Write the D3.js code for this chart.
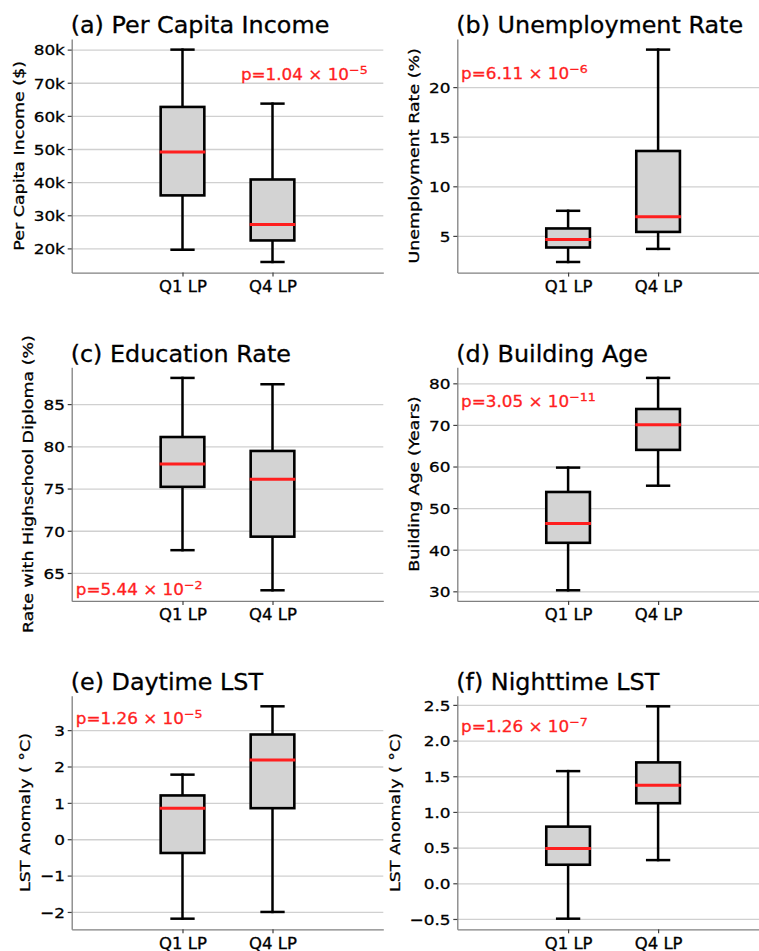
<!DOCTYPE html>
<html>
<head>
<meta charset="utf-8">
<script src="https://cdn.jsdelivr.net/npm/d3@7"></script>
<style>
  body { margin: 0; background: #fff; }
  text { font-family: "DejaVu Sans", sans-serif; stroke-width: 0.3px; }
</style>
</head>
<body>
<div id="chart"></div>
<script>
//DATA
groups = ["Q1 LP", "Q4 LP"];

titles = ["(a) Per Capita Income", "(b) Unemployment Rate", "(c) Education Rate",
          "(d) Building Age", "(e) Daytime LST", "(f) Nighttime LST"];
yLabels = ["Per Capita Income ($)", "Unemployment Rate (%)", "Rate with Highschool Diploma (%)",
           "Building Age (Years)", "LST Anomaly ( \u00b0C)", "LST Anomaly ( \u00b0C)"];

// per group: [lower whisker, Q1, median, Q3, upper whisker]
incomeStats = [[19.6, 36.0, 49.1, 62.7, 80.0], [15.9, 22.4, 27.2, 40.8, 63.7]];   // thousand $
unempStats  = [[2.37, 3.83, 4.64, 5.75, 7.53], [3.69, 5.40, 6.92, 13.56, 23.78]];
eduStats    = [[67.7, 75.2, 77.9, 81.1, 88.1], [62.95, 69.3, 76.1, 79.45, 87.35]];
ageStats    = [[30.25, 41.66, 46.33, 53.88, 59.74], [55.39, 64.0, 70.04, 73.83, 81.3]];
dayStats    = [[-2.185, -0.378, 0.854, 1.204, 1.776], [-2.0, 0.854, 2.18, 2.88, 3.655]];
nightStats  = [[-0.496, 0.26, 0.489, 0.794, 1.572], [0.325, 1.122, 1.375, 1.694, 2.48]];

incomeTicks = [20, 30, 40, 50, 60, 70, 80];
incomeTickLabels = ["20k", "30k", "40k", "50k", "60k", "70k", "80k"];
unempTicks = [5, 10, 15, 20];
unempTickLabels = ["5", "10", "15", "20"];
eduTicks = [65, 70, 75, 80, 85];
eduTickLabels = ["65", "70", "75", "80", "85"];
ageTicks = [30, 40, 50, 60, 70, 80];
ageTickLabels = ["30", "40", "50", "60", "70", "80"];
dayTicks = [-2, -1, 0, 1, 2, 3];
dayTickLabels = ["\u22122", "\u22121", "0", "1", "2", "3"];
nightTicks = [-0.5, 0, 0.5, 1, 1.5, 2, 2.5];
nightTickLabels = ["\u22120.5", "0.0", "0.5", "1.0", "1.5", "2.0", "2.5"];

pMantissa = ["1.04", "6.11", "5.44", "3.05", "1.26", "1.26"];
pExponent = ["\u22125", "\u22126", "\u22122", "\u221211", "\u22125", "\u22127"];

//LAYOUT
colLeft = [71.7, 457.3];
rowTop = [39, 367.3, 695.7];
panelW = 311.6;
panelH = 233.6;
// p-value text anchor, as fraction of the axes
pPos = [[0.543, 0.175], [0.012, 0.171], [0.013, 0.976], [0.012, 0.169], [0.013, 0.123], [0.012, 0.154]];

gridColour = "#d0d0d0";
spineColour = "#808080";
tickColour = "#404040";
boxFill = "#d3d3d3";
redColour = "#ff1f1f";

svg = d3.select("#chart")
  .append("svg")
  .attr("width", 759)
  .attr("height", 951);

function drawPanel(i, stats, ticks, tickLabels) {
  var col = i % 2;
  var row = Math.floor(i / 2);

  var g = svg.append("g")
    .attr("transform", "translate(" + colLeft[col] + "," + rowTop[row] + ")");

  // matplotlib style autoscale: 5% margin round the data
  var flat = stats.flat();
  var lo = d3.min(flat), hi = d3.max(flat);
  var pad = (hi - lo) * 0.05;

  var y = d3.scaleLinear()
    .domain([lo - pad, hi + pad])
    .range([panelH, 0]);

  var x = d3.scalePoint()
    .domain(groups)
    .range([0, panelW])
    .padding(1.231);

  // grid
  g.append("g")
    .call(d3.axisLeft(y).tickValues(ticks).tickSize(-panelW).tickFormat(""))
    .call(function(a) { a.select(".domain").remove(); })
    .selectAll("line")
    .attr("stroke", gridColour)
    .attr("stroke-width", 1.3);

  // y axis
  var yAxis = g.append("g")
    .call(d3.axisLeft(y)
      .tickValues(ticks)
      .tickFormat(function(d) { return tickLabels[ticks.indexOf(d)]; })
      .tickSize(4)
      .tickSizeOuter(0))
    .attr("font-family", null)
    .attr("font-size", 14.8);
  yAxis.select(".domain").attr("stroke", spineColour).attr("stroke-width", 1.3);
  yAxis.selectAll(".tick line").attr("stroke", tickColour).attr("stroke-width", 1.2);
  yAxis.selectAll(".tick text")
    .attr("x", null)
    .attr("dy", "0.36em")
    .attr("fill", "#000")
    .attr("stroke", "#000")
    .attr("transform", "translate(-6.8,0) scale(1.14,1)");

  // y label, left of the tick labels
  var bb = yAxis.node().getBBox();
  g.append("text")
    .attr("transform", "translate(" + (bb.x - 10) + "," + (panelH / 2) + ") rotate(-90) scale(1.18,1)")
    .attr("text-anchor", "middle")
    .attr("font-size", 14.8)
    .attr("stroke", "#000")
    .text(yLabels[i]);

  // x axis
  var xAxis = g.append("g")
    .attr("transform", "translate(0," + panelH + ")")
    .call(d3.axisBottom(x).tickSize(4).tickSizeOuter(0))
    .attr("font-family", null)
    .attr("font-size", 15);
  xAxis.select(".domain").attr("stroke", spineColour).attr("stroke-width", 1.3);
  xAxis.selectAll(".tick line").attr("stroke", tickColour).attr("stroke-width", 1.2);
  xAxis.selectAll(".tick text")
    .attr("y", null)
    .attr("dy", null)
    .attr("fill", "#000")
    .attr("stroke", "#000")
    .attr("transform", "translate(0,19.5) scale(1.1,1)");

  // boxes
  var bw = x.step() * 0.485;
  var cw = bw / 2;

  var boxes = g.selectAll(".box")
    .data(stats)
    .join("g")
    .attr("class", "box")
    .attr("transform", function(d, j) { return "translate(" + x(groups[j]) + ",0)"; });

  boxes.append("line")
    .attr("y1", function(d) { return y(d[0]); })
    .attr("y2", function(d) { return y(d[1]); });
  boxes.append("line")
    .attr("y1", function(d) { return y(d[3]); })
    .attr("y2", function(d) { return y(d[4]); });
  boxes.append("line")
    .attr("x1", -cw / 2).attr("x2", cw / 2)
    .attr("y1", function(d) { return y(d[0]); })
    .attr("y2", function(d) { return y(d[0]); });
  boxes.append("line")
    .attr("x1", -cw / 2).attr("x2", cw / 2)
    .attr("y1", function(d) { return y(d[4]); })
    .attr("y2", function(d) { return y(d[4]); });
  boxes.selectAll("line")
    .attr("stroke", "#000")
    .attr("stroke-width", 2.5)
    .attr("stroke-linecap", "square");

  boxes.append("rect")
    .attr("x", -bw / 2)
    .attr("width", bw)
    .attr("y", function(d) { return y(d[3]); })
    .attr("height", function(d) { return y(d[1]) - y(d[3]); })
    .attr("fill", boxFill)
    .attr("stroke", "#000")
    .attr("stroke-width", 2.6);

  boxes.append("line")
    .attr("x1", -bw / 2 - 1).attr("x2", bw / 2 + 1)
    .attr("y1", function(d) { return y(d[2]); })
    .attr("y2", function(d) { return y(d[2]); })
    .attr("stroke", redColour)
    .attr("stroke-width", 3);

  // title
  g.append("text")
    .attr("transform", "translate(-1,-5.7) scale(1.06,1)")
    .attr("font-size", 22.5)
    .attr("stroke", "#000")
    .text(titles[i]);

  // p-value
  var pt = g.append("text")
    .attr("transform", "translate(" + (pPos[i][0] * panelW) + "," + (pPos[i][1] * panelH) + ") scale(1.12,1)")
    .attr("font-size", 15)
    .attr("fill", redColour)
    .attr("stroke", redColour);
  pt.append("tspan").text("p=" + pMantissa[i] + " \u00d7 10");
  pt.append("tspan")
    .attr("font-size", 11.3)
    .attr("dy", -6)
    .text(pExponent[i]);
}

drawPanel(0, incomeStats, incomeTicks, incomeTickLabels);
drawPanel(1, unempStats, unempTicks, unempTickLabels);
drawPanel(2, eduStats, eduTicks, eduTickLabels);
drawPanel(3, ageStats, ageTicks, ageTickLabels);
drawPanel(4, dayStats, dayTicks, dayTickLabels);
drawPanel(5, nightStats, nightTicks, nightTickLabels);
</script>
</body>
</html>
